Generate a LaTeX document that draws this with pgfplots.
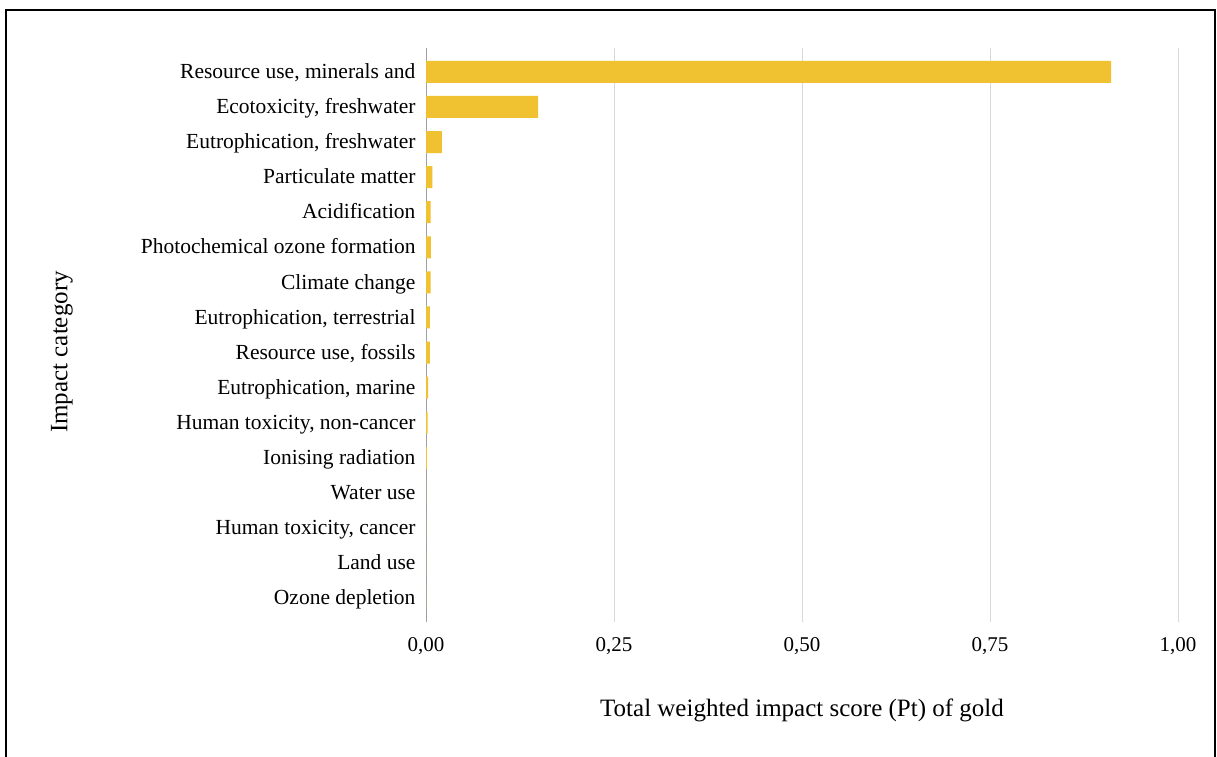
\documentclass[border=0pt]{standalone}
\usepackage{pgfplots}
\pgfplotsset{compat=1.18}
\usepackage{fontspec}
\setmainfont{Liberation Serif}
\definecolor{barcol}{RGB}{240,194,50}
\definecolor{gridcol}{RGB}{217,217,217}
\definecolor{axcol}{RGB}{160,160,160}
\begin{document}
\begin{tikzpicture}[x=1pt,y=1pt]
\useasboundingbox (0,0) rectangle (1217,756);
\draw[line width=2.5pt] (6,-10) -- (6,746) -- (1215,746) -- (1215,-10);
\begin{axis}[
  at={(426pt,134pt)}, anchor=south west,
  scale only axis, width=752pt, height=574pt,
  xmin=0, xmax=1, ymin=-0.68, ymax=15.68,
  xtick={0,0.25,0.5,0.75,1},
  xmajorgrids, grid style={gridcol, line width=0.8pt},
  extra x ticks={0}, extra x tick labels={},
  extra x tick style={grid style={axcol, line width=1pt}},
  axis line style={draw=none},
  major tick length=0pt,
  xticklabel style={font=\fontsize{21}{21}\selectfont, yshift=-12pt},
  yticklabel style={font=\fontsize{21.5}{21.5}\selectfont, xshift=-7pt, yshift=-4pt, text height=1.45ex, text depth=0.3ex},
  /pgf/number format/.cd, use comma, fixed, fixed zerofill, precision=2, assume math mode=true,
  /pgfplots/.cd,
  ytick={0,...,15},
  yticklabels={Ozone depletion, Land use, {Human toxicity, cancer}, Water use, Ionising radiation, {Human toxicity, non-cancer}, {Eutrophication, marine}, {Resource use, fossils}, {Eutrophication, terrestrial}, Climate change, Photochemical ozone formation, Acidification, Particulate matter, {Eutrophication, freshwater}, {Ecotoxicity, freshwater}, {Resource use, minerals and}},
  xbar, bar width=22pt, bar shift=0pt,
]
\addplot[fill=barcol, draw=none] coordinates {
(0.00005,0) (0.0001,1) (0.0001,2) (0.0003,3) (0.0013,4) (0.0022,5) (0.0027,6) (0.0053,7) (0.0053,8) (0.0062,9) (0.0066,10) (0.0062,11) (0.0084,12) (0.021,13) (0.149,14) (0.911,15)};
\end{axis}
\node[rotate=90, font=\fontsize{25}{25}\selectfont] at (62,404) {Impact category};
\node[font=\fontsize{25}{25}\selectfont] at (802,46) {Total weighted impact score (Pt) of gold};
\end{tikzpicture}
\end{document}
